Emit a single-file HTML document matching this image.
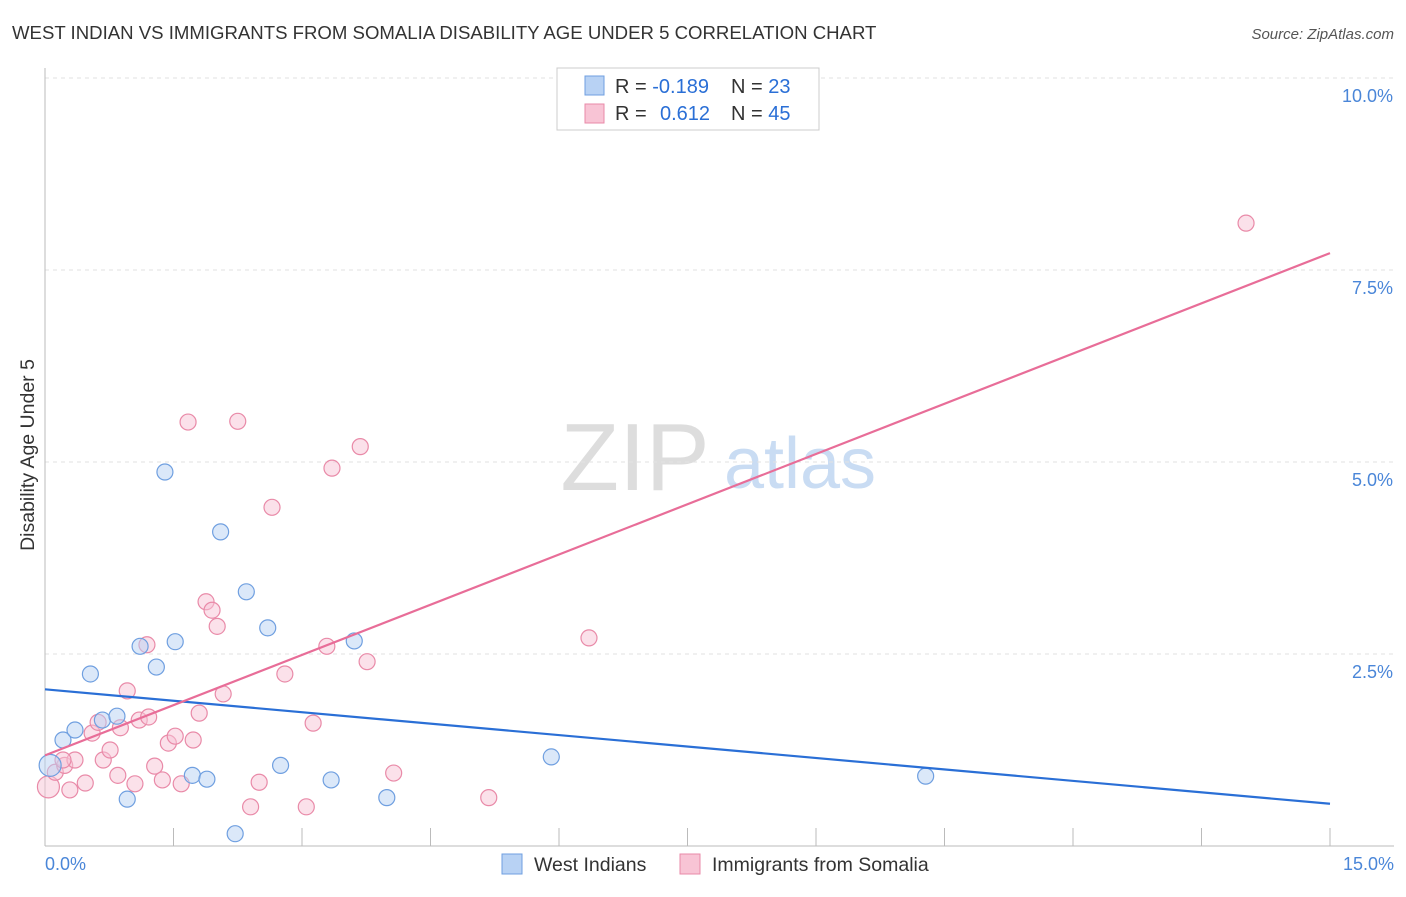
<!DOCTYPE html>
<html><head><meta charset="utf-8"><style>
body{margin:0;background:#fff;font-family:"Liberation Sans",sans-serif;}
svg text{font-family:"Liberation Sans",sans-serif;}
</style></head><body>
<svg id="chart" width="1406" height="892">
<text x="12" y="39" font-size="18.6" fill="#333">WEST INDIAN VS IMMIGRANTS FROM SOMALIA DISABILITY AGE UNDER 5 CORRELATION CHART</text>
<text x="1394" y="39" font-size="15" fill="#555" font-style="italic" text-anchor="end">Source: ZipAtlas.com</text>
<text x="635" y="490" font-size="96" fill="#ddd" font-family="Liberation Serif" text-anchor="middle">ZIP</text>
<text x="800" y="488" font-size="72" fill="#c9dcf3" text-anchor="middle">atlas</text>
<g id="grid"></g>
<g id="axes"></g>
<g id="marks"></g>
<text transform="translate(34,455) rotate(-90)" font-size="19.5" fill="#333" text-anchor="middle">Disability Age Under 5</text>
<g>
<rect x="557" y="68" width="262" height="62" fill="#fff" stroke="#ccc"/>
<rect x="585" y="76" width="19" height="19" fill="#b8d2f4" stroke="#6f9fe0"/>
<rect x="585" y="104" width="19" height="19" fill="#f8c4d5" stroke="#e98aa8"/>
<text x="615" y="93" font-size="20" fill="#333">R = <tspan fill="#2a6fd6">-0.189</tspan><tspan x="731">N = </tspan><tspan fill="#2a6fd6">23</tspan></text>
<text x="615" y="120" font-size="20" fill="#333">R = <tspan fill="#2a6fd6" x="660">0.612</tspan><tspan x="731">N = </tspan><tspan fill="#2a6fd6">45</tspan></text>
</g>
<g>
<rect x="502" y="854" width="20" height="20" fill="#b8d2f4" stroke="#6f9fe0"/>
<text x="534" y="871" font-size="19.5" fill="#333">West Indians</text>
<rect x="680" y="854" width="20" height="20" fill="#f8c4d5" stroke="#e98aa8"/>
<text x="712" y="871" font-size="19.5" fill="#333">Immigrants from Somalia</text>
</g>
</svg>
<script>
const xTicks=[0,1.5,3,4.5,6,7.5,9,10.5,12,13.5,15];
const yTicks=[2.5,5,7.5,10];
const yTickLabels=["2.5%","5.0%","7.5%","10.0%"];
const xEndLabels=["0.0%","15.0%"];
const blueX=[0.06,0.21,0.35,0.53,0.67,0.84,0.96,1.11,1.30,1.40,1.52,1.72,1.89,2.05,2.22,2.35,2.60,2.75,3.34,3.61,3.99,5.91,10.28];
const blueY=[1.05,1.38,1.51,2.24,1.64,1.69,0.61,2.60,2.33,4.87,2.66,0.92,0.87,4.09,0.16,3.31,2.84,1.05,0.86,2.67,0.63,1.16,0.91];
const pinkX=[0.04,0.12,0.23,0.35,0.47,0.55,0.62,0.68,0.76,0.85,0.96,1.05,1.10,1.19,1.21,1.28,1.37,1.44,1.52,1.59,1.67,1.73,1.80,1.88,1.95,2.01,2.08,2.25,2.40,2.50,2.65,2.80,3.05,3.13,3.29,3.35,3.68,3.76,4.07,5.18,6.35,14.02,0.21,0.29,0.88];
const pinkY=[0.77,0.96,1.05,1.12,0.82,1.47,1.61,1.12,1.25,0.92,2.02,0.81,1.64,2.62,1.68,1.04,0.86,1.34,1.43,0.81,5.52,1.38,1.73,3.18,3.07,2.86,1.98,5.53,0.51,0.83,4.41,2.24,0.51,1.60,2.60,4.92,5.20,2.40,0.95,0.63,2.71,8.11,1.12,0.73,1.54];
const blueTrend=[2.04,0.55];
const pinkTrend=[1.18,7.72];
const NS="http://www.w3.org/2000/svg";
const X0=45,X1=1330,Y0=846,Y1=78;
const sx=v=>X0+(v/15)*(X1-X0);
const sy=v=>Y0-(v/10)*(Y0-Y1);
function mk(tag,attrs,parent){const e=document.createElementNS(NS,tag);for(const k in attrs)e.setAttribute(k,attrs[k]);document.getElementById(parent).appendChild(e);return e;}
yTicks.forEach((t,i)=>{
 const l=mk('line',{x1:X0,x2:1394,y1:sy(t),y2:sy(t),stroke:'#e2e2e2','stroke-dasharray':'4,4'},'grid');
 
 
 const tx=mk('text',{x:1393,y:sy(t)+24,'font-size':18,fill:'#4a86d8','text-anchor':'end'},'axes');
 tx.textContent=yTickLabels[i];
 
 
});
const ax=mk('line',{x1:X0,x2:X0,y1:68,y2:Y0,stroke:'#bbb'},'axes');


const bx=mk('line',{x1:X0,x2:1394,y1:Y0,y2:Y0,stroke:'#bbb'},'axes');


xTicks.forEach(t=>{
 const l=mk('line',{x1:sx(t),x2:sx(t),y1:Y0,y2:828,stroke:'#bbb'},'axes');
 
 
});
[[0,'start',45],[15,'end',1394]].forEach((a,i)=>{
 const tx=mk('text',{x:a[2],y:870,'font-size':18,fill:'#4a86d8','text-anchor':a[1]},'axes');
 tx.textContent=xEndLabels[i];
 
 
});
function pts(xs,ys,fill,stroke,name){
 xs.forEach((x,i)=>{
  const c=mk('circle',{cx:sx(x),cy:sy(ys[i]),r:i===0?11:8,fill:fill,'fill-opacity':0.5,stroke:stroke,'stroke-width':1.2},'marks');
  
  
 });
}
pts(pinkX,pinkY,'#f8c4d5','#e98aa8','point-somalia');
pts(blueX,blueY,'#b8d2f4','#6f9fe0','point-west-indian');
const bl=mk('line',{x1:sx(0),y1:sy(blueTrend[0]),x2:sx(15),y2:sy(blueTrend[1]),stroke:'#2a6fd6','stroke-width':2.2},'marks');


const pl=mk('line',{x1:sx(0),y1:sy(pinkTrend[0]),x2:sx(15),y2:sy(pinkTrend[1]),stroke:'#e86d98','stroke-width':2.2},'marks');


</script>
</body></html>
